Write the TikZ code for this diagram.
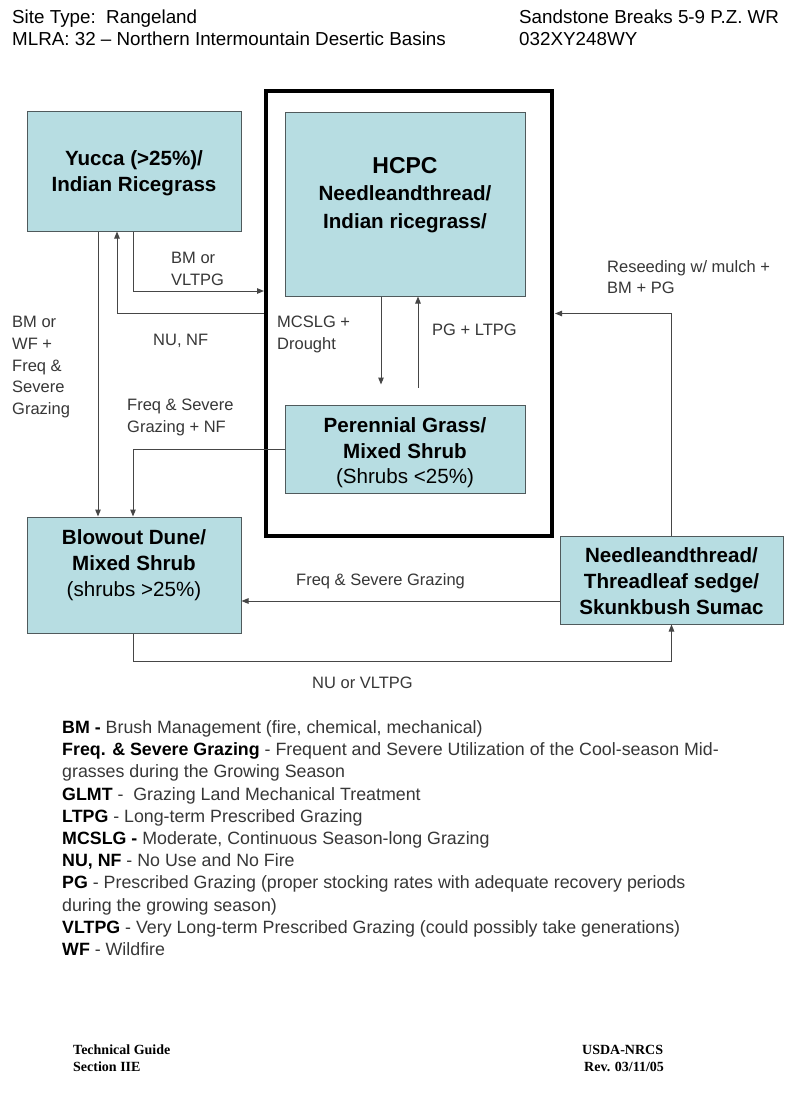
\documentclass[tikz,border=0pt]{standalone}
\usepackage{fontspec}
\setmainfont{Liberation Sans}
\newfontfamily\serifb{Liberation Serif}
\usetikzlibrary{arrows.meta}
\definecolor{boxfill}{RGB}{183,221,226}
\definecolor{boxline}{RGB}{80,90,92}
\definecolor{arrc}{RGB}{70,70,70}
\definecolor{legc}{RGB}{55,55,55}
\begin{document}
\begin{tikzpicture}[x=1pt,y=-1pt,
  box/.style={draw=boxline, fill=boxfill, line width=1pt, inner sep=0pt},
  arr/.style={draw=arrc, line width=1pt, -{Triangle[length=7pt,width=5.5pt]}},
  btxt/.style={anchor=north, align=center, inner sep=0pt, font=\fontsize{20.6}{25.5}\selectfont\bfseries},
  lab/.style={anchor=north west, align=left, inner sep=0pt, text=legc, font=\fontsize{16.5}{21.8}\selectfont},
  head/.style={anchor=base west, inner sep=0pt, font=\fontsize{18.8}{22}\selectfont},
  leg/.style={anchor=base west, inner sep=0pt, text=legc, font=\fontsize{17.8}{22}\selectfont},
  foot/.style={anchor=base west, inner sep=0pt, font=\fontsize{14}{17}\selectfont\serifb\bfseries}]

\useasboundingbox[fill=white] (0,0) rectangle (800,1108);

% header
\node[head] (h1) at (12,23.7) {Site Type:\ \ Rangeland};
\node[head] (h2) at (12,45.7) {MLRA: 32 -- Northern Intermountain Desertic Basins};
\node[head] (h3) at (519,23.7) {Sandstone Breaks 5-9 P.Z. WR};
\node[head] (h4) at (519,45.7) {032XY248WY};

% boxes
\node[draw=black, line width=4pt, minimum width=286pt, minimum height=445pt, inner sep=0pt] (big) at (409,313.5) {};
\node[box, minimum width=214pt, minimum height=120pt] (yucca) at (134,171) {};
\node[box, minimum width=240pt, minimum height=184pt] (hcpc) at (405,204) {};
\node[box, minimum width=240pt, minimum height=88pt] (peren) at (405,449) {};
\node[box, minimum width=214pt, minimum height=116pt] (blow) at (134,575) {};
\node[box, minimum width=223pt, minimum height=88pt] (needle) at (671.5,580) {};

% box texts
\node[btxt] (yuccaT) at (134,150.6) {Yucca (>25\%)/\\Indian Ricegrass};
\node[anchor=base, inner sep=0pt, font=\fontsize{23}{28}\selectfont\bfseries] (hcpcT1) at (405,173) {HCPC};
\node[btxt, font=\fontsize{20.6}{27.5}\selectfont\bfseries] (hcpcT2) at (405,185.8) {Needleandthread/\\Indian ricegrass/};
\node[btxt] (perenT) at (405,417.6) {Perennial Grass/\\Mixed Shrub\\\mdseries(Shrubs <25\%)};
\node[btxt, font=\fontsize{20.6}{26}\selectfont\bfseries] (blowT) at (134,529.6) {Blowout Dune/\\Mixed Shrub\\\mdseries(shrubs >25\%)};
\node[btxt, font=\fontsize{20.6}{26}\selectfont\bfseries] (needleT) at (671.5,547.6) {Needleandthread/\\Threadleaf sedge/\\Skunkbush Sumac};

% connectors
\draw[arr] ([xshift=-36pt]yucca.south) -- ([xshift=-36pt]blow.north);
\draw[arr] ([xshift=-1pt]yucca.south) |- ([yshift=22.5pt]big.west);
\draw[arr] (big.west) -| ([xshift=-17pt]yucca.south);
\draw[arr] ([xshift=-24pt]hcpc.south) -- ([xshift=-24pt,yshift=20pt]peren.north);
\draw[arr] ([xshift=13pt,yshift=17pt]peren.north) -- ([xshift=13pt]hcpc.south);
\draw[arr] (peren.west) -| ([xshift=-1pt]blow.north);
\draw[arr] ([yshift=-21pt]needle.west) -- ([yshift=-21pt]needle.west -| blow.east);
\draw[arr] ([xshift=-1pt]blow.south) |- ([yshift=-37pt]needle.south) -- (needle.south);
\draw[arr] (needle.north) |- ([xshift=1pt]big.east);

% connector labels
\node[lab] (lbA) at (171,252) {BM or\\VLTPG};
\node[lab] (lbB) at (153,334) {NU, NF};
\node[lab] (lbC) at (277,316) {MCSLG +\\Drought};
\node[lab] (lbD) at (432,324) {PG + LTPG};
\node[lab] (lbE) at (607,260) {Reseeding w/ mulch +\\BM + PG};
\node[lab] (lbF) at (12,316) {BM or\\WF +\\Freq \&\\Severe\\Grazing};
\node[lab] (lbG) at (127,399) {Freq \& Severe\\Grazing + NF};
\node[lab] (lbH) at (296,573) {Freq \& Severe Grazing};
\node[lab] (lbI) at (312,677) {NU or VLTPG};

% legend
\node[leg] (g1) at (62,733.4) {\textcolor{black}{\bfseries BM -} Brush Management (fire, chemical, mechanical)};
\node[leg] (g2) at (62,755.6) {\textcolor{black}{\bfseries Freq. \& Severe Grazing} - Frequent and Severe Utilization of the Cool-season Mid-};
\node[leg] (g3) at (62,777.8) {grasses during the Growing Season};
\node[leg] (g4) at (62,800.0) {\textcolor{black}{\bfseries GLMT} -\ \ Grazing Land Mechanical Treatment};
\node[leg] (g5) at (62,822.2) {\textcolor{black}{\bfseries LTPG} - Long-term Prescribed Grazing};
\node[leg] (g6) at (62,844.4) {\textcolor{black}{\bfseries MCSLG -} Moderate, Continuous Season-long Grazing};
\node[leg] (g7) at (62,866.6) {\textcolor{black}{\bfseries NU, NF} - No Use and No Fire};
\node[leg] (g8) at (62,888.8) {\textcolor{black}{\bfseries PG} - Prescribed Grazing (proper stocking rates with adequate recovery periods};
\node[leg] (g9) at (62,911.0) {during the growing season)};
\node[leg] (g10) at (62,933.2) {\textcolor{black}{\bfseries VLTPG} - Very Long-term Prescribed Grazing (could possibly take generations)};
\node[leg] (g11) at (62,955.4) {\textcolor{black}{\bfseries WF} - Wildfire};

% footer
\node[foot] (f1) at (73,1054.5) {Technical Guide};
\node[foot] (f2) at (73,1071.5) {Section IIE};
\node[foot] (f3) at (582,1054.5) {USDA-NRCS};
\node[foot] (f4) at (584,1071.5) {Rev. 03/11/05};
\end{tikzpicture}
\end{document}
